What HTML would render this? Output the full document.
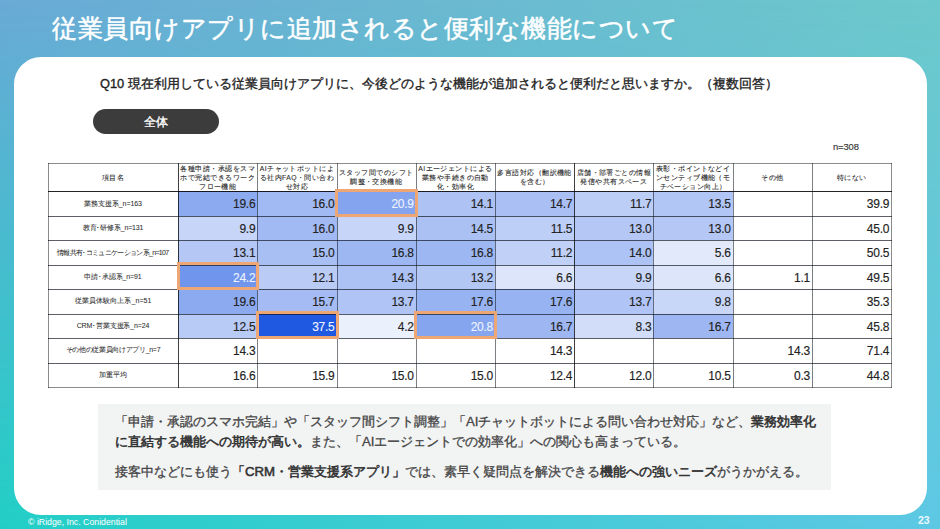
<!DOCTYPE html>
<html lang="ja"><head><meta charset="utf-8">
<style>
*{margin:0;padding:0;box-sizing:border-box}
html,body{width:940px;height:529px;overflow:hidden}
body{position:relative;font-family:"Liberation Sans",sans-serif;background:linear-gradient(to right,#6aaad6,#6cc9cc)}
.bgb{position:absolute;left:0;top:0;width:940px;height:529px;background:linear-gradient(to right,#22cfc6,#5ec8e4);-webkit-mask-image:linear-gradient(to bottom,transparent,#000);mask-image:linear-gradient(to bottom,transparent,#000)}
.title{position:absolute;left:52px;top:12px;color:#fff;font-size:25px;line-height:32px;white-space:nowrap;letter-spacing:0.5px;-webkit-text-stroke:0.5px #fff}
.panel{position:absolute;left:14px;top:57px;width:913px;height:458px;background:#fff;border-radius:27px}
.q{position:absolute;left:100px;top:76px;font-size:12.83px;line-height:16px;color:#1e1e1e;white-space:nowrap;-webkit-text-stroke:0.35px #1e1e1e}
.pill{position:absolute;left:93px;top:109px;width:126px;height:25px;border-radius:13px;background:#3c3c3c;color:#fff;font-size:12px;line-height:27px;text-align:center;-webkit-text-stroke:0.35px #fff}
.n308{position:absolute;left:833px;top:141px;font-size:9.4px;line-height:12px;color:#333;letter-spacing:-0.1px;-webkit-text-stroke:0.15px #333}
.hd,.lb,.nm{position:absolute;overflow:hidden}
.hd{display:flex;align-items:center;justify-content:center;text-align:center;font-size:6.8px;line-height:9px;color:#2a2a2a;-webkit-text-stroke:0.1px #2a2a2a;letter-spacing:0.45px;white-space:nowrap}
.lb{display:flex;align-items:center;justify-content:center;font-size:7px;color:#2a2a2a;white-space:nowrap;-webkit-text-stroke:0.05px #2a2a2a}
.nm{text-align:right;font-size:12px;line-height:26px;padding-right:2px;color:#222;letter-spacing:-0.25px;-webkit-text-stroke:0.15px #222}
.nm.hl{color:#eef4ff;-webkit-text-stroke:0.1px #eef4ff}
.ln{position:absolute}
.hlb{position:absolute;border:3px solid #eea674;box-sizing:content-box}
.box{position:absolute;left:98px;top:404px;width:733px;height:86px;background:#f2f3f3}
.sum{position:absolute;left:115px;font-size:13.2px;line-height:20px;color:#444;white-space:nowrap;-webkit-text-stroke:0.3px #444}
.sum b{color:#333;font-weight:normal;-webkit-text-stroke:0.55px #333}
.foot{position:absolute;left:28px;top:516px;font-size:8.75px;line-height:12px;color:#fff}
.pg{position:absolute;left:918px;top:514px;font-size:10.5px;line-height:12px;color:#eaf8ff;font-weight:bold}
</style></head><body>
<div class="bgb"></div>
<div class="title">従業員向けアプリに追加されると便利な機能について</div>
<div class="panel"></div>
<div class="q">Q10 現在利用している従業員向けアプリに、今後どのような機能が追加されると便利だと思いますか。（複数回答）</div>
<div class="pill">全体</div>
<div class="n308">n=308</div>
<div class="hd" style="left:48.00px;top:163.00px;width:130.10px;height:28.40px"><span>項目名</span></div><div class="hd" style="left:178.10px;top:163.00px;width:79.23px;height:28.40px"><span>各種申請・承認をスマ<br>ホで完結できるワーク<br>フロー機能</span></div><div class="hd" style="left:257.33px;top:163.00px;width:79.23px;height:28.40px"><span>AIチャットボットによ<br>る社内FAQ・問い合わ<br>せ対応</span></div><div class="hd" style="left:336.56px;top:163.00px;width:79.23px;height:28.40px"><span>スタッフ間でのシフト<br>調整・交換機能</span></div><div class="hd" style="left:415.79px;top:163.00px;width:79.23px;height:28.40px"><span>AIエージェントによる<br>業務や手続きの自動<br>化・効率化</span></div><div class="hd" style="left:495.02px;top:163.00px;width:79.23px;height:28.40px"><span>多言語対応（翻訳機能<br>を含む）</span></div><div class="hd" style="left:574.25px;top:163.00px;width:79.23px;height:28.40px"><span>店舗・部署ごとの情報<br>発信や共有スペース</span></div><div class="hd" style="left:653.48px;top:163.00px;width:79.23px;height:28.40px"><span>表彰・ポイントなどイ<br>ンセンティブ機能（モ<br>チベーション向上）</span></div><div class="hd" style="left:732.71px;top:163.00px;width:79.23px;height:28.40px"><span>その他</span></div><div class="hd" style="left:811.94px;top:163.00px;width:79.23px;height:28.40px"><span>特にない</span></div><div class="lb" style="left:48.00px;top:191.40px;width:130.10px;height:24.45px"><span style="letter-spacing:-0.08px;margin-right:0.08px">業務支援系_n=163</span></div><div class="nm" style="left:178.10px;top:191.40px;width:79.23px;height:24.45px;background:#8caaf0;">19.6</div><div class="nm" style="left:257.33px;top:191.40px;width:79.23px;height:24.45px;background:#a2baf3;">16.0</div><div class="nm hl" style="left:336.56px;top:191.40px;width:79.23px;height:24.45px;background:#84a4ef;">20.9</div><div class="nm" style="left:415.79px;top:191.40px;width:79.23px;height:24.45px;background:#aec3f4;">14.1</div><div class="nm" style="left:495.02px;top:191.40px;width:79.23px;height:24.45px;background:#aac0f4;">14.7</div><div class="nm" style="left:574.25px;top:191.40px;width:79.23px;height:24.45px;background:#bccef6;">11.7</div><div class="nm" style="left:653.48px;top:191.40px;width:79.23px;height:24.45px;background:#b1c6f5;">13.5</div><div class="nm" style="left:732.71px;top:191.40px;width:79.23px;height:24.45px;"></div><div class="nm" style="left:811.94px;top:191.40px;width:79.23px;height:24.45px;">39.9</div><div class="lb" style="left:48.00px;top:215.85px;width:130.10px;height:24.45px"><span style="letter-spacing:-0.17px;margin-right:0.17px">教育･研修系_n=131</span></div><div class="nm" style="left:178.10px;top:215.85px;width:79.23px;height:24.45px;background:#c7d6f8;">9.9</div><div class="nm" style="left:257.33px;top:215.85px;width:79.23px;height:24.45px;background:#a2baf3;">16.0</div><div class="nm" style="left:336.56px;top:215.85px;width:79.23px;height:24.45px;background:#c7d6f8;">9.9</div><div class="nm" style="left:415.79px;top:215.85px;width:79.23px;height:24.45px;background:#abc1f4;">14.5</div><div class="nm" style="left:495.02px;top:215.85px;width:79.23px;height:24.45px;background:#becff7;">11.5</div><div class="nm" style="left:574.25px;top:215.85px;width:79.23px;height:24.45px;background:#b5c8f5;">13.0</div><div class="nm" style="left:653.48px;top:215.85px;width:79.23px;height:24.45px;background:#b5c8f5;">13.0</div><div class="nm" style="left:732.71px;top:215.85px;width:79.23px;height:24.45px;"></div><div class="nm" style="left:811.94px;top:215.85px;width:79.23px;height:24.45px;">45.0</div><div class="lb" style="left:48.00px;top:240.30px;width:130.10px;height:24.45px"><span style="letter-spacing:-0.66px;margin-right:0.66px">情報共有･コミュニケーション系_n=107</span></div><div class="nm" style="left:178.10px;top:240.30px;width:79.23px;height:24.45px;background:#b4c7f5;">13.1</div><div class="nm" style="left:257.33px;top:240.30px;width:79.23px;height:24.45px;background:#a8bff4;">15.0</div><div class="nm" style="left:336.56px;top:240.30px;width:79.23px;height:24.45px;background:#9db7f2;">16.8</div><div class="nm" style="left:415.79px;top:240.30px;width:79.23px;height:24.45px;background:#9db7f2;">16.8</div><div class="nm" style="left:495.02px;top:240.30px;width:79.23px;height:24.45px;background:#c0d0f7;">11.2</div><div class="nm" style="left:574.25px;top:240.30px;width:79.23px;height:24.45px;background:#aec3f5;">14.0</div><div class="nm" style="left:653.48px;top:240.30px;width:79.23px;height:24.45px;background:#e2e9fb;">5.6</div><div class="nm" style="left:732.71px;top:240.30px;width:79.23px;height:24.45px;"></div><div class="nm" style="left:811.94px;top:240.30px;width:79.23px;height:24.45px;">50.5</div><div class="lb" style="left:48.00px;top:264.75px;width:130.10px;height:24.45px"><span style="letter-spacing:-0.15px;margin-right:0.15px">申請･承認系_n=91</span></div><div class="nm hl" style="left:178.10px;top:264.75px;width:79.23px;height:24.45px;background:#7095ed;">24.2</div><div class="nm" style="left:257.33px;top:264.75px;width:79.23px;height:24.45px;background:#baccf6;">12.1</div><div class="nm" style="left:336.56px;top:264.75px;width:79.23px;height:24.45px;background:#adc2f4;">14.3</div><div class="nm" style="left:415.79px;top:264.75px;width:79.23px;height:24.45px;background:#b3c7f5;">13.2</div><div class="nm" style="left:495.02px;top:264.75px;width:79.23px;height:24.45px;background:#dce5fa;">6.6</div><div class="nm" style="left:574.25px;top:264.75px;width:79.23px;height:24.45px;background:#c7d6f8;">9.9</div><div class="nm" style="left:653.48px;top:264.75px;width:79.23px;height:24.45px;background:#dce5fa;">6.6</div><div class="nm" style="left:732.71px;top:264.75px;width:79.23px;height:24.45px;">1.1</div><div class="nm" style="left:811.94px;top:264.75px;width:79.23px;height:24.45px;">49.5</div><div class="lb" style="left:48.00px;top:289.20px;width:130.10px;height:24.45px"><span style="letter-spacing:0.1px;margin-right:-0.1px">従業員体験向上系_n=51</span></div><div class="nm" style="left:178.10px;top:289.20px;width:79.23px;height:24.45px;background:#8caaf0;">19.6</div><div class="nm" style="left:257.33px;top:289.20px;width:79.23px;height:24.45px;background:#a4bcf3;">15.7</div><div class="nm" style="left:336.56px;top:289.20px;width:79.23px;height:24.45px;background:#b0c5f5;">13.7</div><div class="nm" style="left:415.79px;top:289.20px;width:79.23px;height:24.45px;background:#98b3f2;">17.6</div><div class="nm" style="left:495.02px;top:289.20px;width:79.23px;height:24.45px;background:#98b3f2;">17.6</div><div class="nm" style="left:574.25px;top:289.20px;width:79.23px;height:24.45px;background:#b0c5f5;">13.7</div><div class="nm" style="left:653.48px;top:289.20px;width:79.23px;height:24.45px;background:#c8d6f8;">9.8</div><div class="nm" style="left:732.71px;top:289.20px;width:79.23px;height:24.45px;"></div><div class="nm" style="left:811.94px;top:289.20px;width:79.23px;height:24.45px;">35.3</div><div class="lb" style="left:48.00px;top:313.65px;width:130.10px;height:24.45px"><span style="letter-spacing:-0.14px;margin-right:0.14px">CRM･営業支援系_n=24</span></div><div class="nm" style="left:178.10px;top:313.65px;width:79.23px;height:24.45px;background:#b8caf6;">12.5</div><div class="nm hl" style="left:257.33px;top:313.65px;width:79.23px;height:24.45px;background:#1f59e2;">37.5</div><div class="nm" style="left:336.56px;top:313.65px;width:79.23px;height:24.45px;background:#eaf0fc;">4.2</div><div class="nm hl" style="left:415.79px;top:313.65px;width:79.23px;height:24.45px;background:#85a5ef;">20.8</div><div class="nm" style="left:495.02px;top:313.65px;width:79.23px;height:24.45px;background:#9eb7f2;">16.7</div><div class="nm" style="left:574.25px;top:313.65px;width:79.23px;height:24.45px;background:#d1ddf9;">8.3</div><div class="nm" style="left:653.48px;top:313.65px;width:79.23px;height:24.45px;background:#9eb7f2;">16.7</div><div class="nm" style="left:732.71px;top:313.65px;width:79.23px;height:24.45px;"></div><div class="nm" style="left:811.94px;top:313.65px;width:79.23px;height:24.45px;">45.8</div><div class="lb" style="left:48.00px;top:338.10px;width:130.10px;height:24.45px"><span style="letter-spacing:-0.32px;margin-right:0.32px">その他の従業員向けアプリ_n=7</span></div><div class="nm" style="left:178.10px;top:338.10px;width:79.23px;height:24.45px;">14.3</div><div class="nm" style="left:257.33px;top:338.10px;width:79.23px;height:24.45px;"></div><div class="nm" style="left:336.56px;top:338.10px;width:79.23px;height:24.45px;"></div><div class="nm" style="left:415.79px;top:338.10px;width:79.23px;height:24.45px;"></div><div class="nm" style="left:495.02px;top:338.10px;width:79.23px;height:24.45px;">14.3</div><div class="nm" style="left:574.25px;top:338.10px;width:79.23px;height:24.45px;"></div><div class="nm" style="left:653.48px;top:338.10px;width:79.23px;height:24.45px;"></div><div class="nm" style="left:732.71px;top:338.10px;width:79.23px;height:24.45px;">14.3</div><div class="nm" style="left:811.94px;top:338.10px;width:79.23px;height:24.45px;">71.4</div><div class="lb" style="left:48.00px;top:362.55px;width:130.10px;height:24.45px"><span style="letter-spacing:0.0px;margin-right:-0.0px">加重平均</span></div><div class="nm" style="left:178.10px;top:362.55px;width:79.23px;height:24.45px;">16.6</div><div class="nm" style="left:257.33px;top:362.55px;width:79.23px;height:24.45px;">15.9</div><div class="nm" style="left:336.56px;top:362.55px;width:79.23px;height:24.45px;">15.0</div><div class="nm" style="left:415.79px;top:362.55px;width:79.23px;height:24.45px;">15.0</div><div class="nm" style="left:495.02px;top:362.55px;width:79.23px;height:24.45px;">12.4</div><div class="nm" style="left:574.25px;top:362.55px;width:79.23px;height:24.45px;">12.0</div><div class="nm" style="left:653.48px;top:362.55px;width:79.23px;height:24.45px;">10.5</div><div class="nm" style="left:732.71px;top:362.55px;width:79.23px;height:24.45px;">0.3</div><div class="nm" style="left:811.94px;top:362.55px;width:79.23px;height:24.45px;">44.8</div>
<div class="ln" style="left:48px;top:163.00px;width:844.17px;height:1px;background:rgba(0,0,0,0.45)"></div><div class="ln" style="left:48px;top:191.40px;width:844.17px;height:1px;background:rgba(0,0,0,0.86)"></div><div class="ln" style="left:48px;top:215.85px;width:844.17px;height:1px;background:rgba(15,20,30,0.68)"></div><div class="ln" style="left:48px;top:240.30px;width:844.17px;height:1px;background:rgba(15,20,30,0.68)"></div><div class="ln" style="left:48px;top:264.75px;width:844.17px;height:1px;background:rgba(15,20,30,0.68)"></div><div class="ln" style="left:48px;top:289.20px;width:844.17px;height:1px;background:rgba(15,20,30,0.68)"></div><div class="ln" style="left:48px;top:313.65px;width:844.17px;height:1px;background:rgba(15,20,30,0.68)"></div><div class="ln" style="left:48px;top:338.10px;width:844.17px;height:1px;background:rgba(15,20,30,0.68)"></div><div class="ln" style="left:48px;top:362.55px;width:844.17px;height:1px;background:rgba(15,20,30,0.68)"></div><div class="ln" style="left:48px;top:387.00px;width:844.17px;height:1px;background:rgba(0,0,0,0.45)"></div><div class="ln" style="left:48.00px;top:163px;width:1px;height:225.00px;background:rgba(0,0,0,0.45)"></div><div class="ln" style="left:178.10px;top:163px;width:1px;height:225.00px;background:rgba(0,0,0,0.75)"></div><div class="ln" style="left:257.33px;top:163px;width:1px;height:225.00px;background:rgba(15,20,30,0.55)"></div><div class="ln" style="left:336.56px;top:163px;width:1px;height:225.00px;background:rgba(15,20,30,0.55)"></div><div class="ln" style="left:415.79px;top:163px;width:1px;height:225.00px;background:rgba(15,20,30,0.55)"></div><div class="ln" style="left:495.02px;top:163px;width:1px;height:225.00px;background:rgba(15,20,30,0.55)"></div><div class="ln" style="left:574.25px;top:163px;width:1px;height:225.00px;background:rgba(0,0,0,0.75)"></div><div class="ln" style="left:653.48px;top:163px;width:1px;height:225.00px;background:rgba(15,20,30,0.55)"></div><div class="ln" style="left:732.71px;top:163px;width:1px;height:225.00px;background:rgba(15,20,30,0.55)"></div><div class="ln" style="left:811.94px;top:163px;width:1px;height:225.00px;background:rgba(15,20,30,0.55)"></div><div class="ln" style="left:891.17px;top:163px;width:1px;height:225.00px;background:rgba(0,0,0,0.45)"></div>
<div class="hlb" style="left:335.06px;top:189.10px;width:76.73px;height:21.75px"></div><div class="hlb" style="left:176.60px;top:262.45px;width:76.73px;height:21.75px"></div><div class="hlb" style="left:255.83px;top:311.35px;width:76.73px;height:21.75px"></div><div class="hlb" style="left:414.29px;top:311.35px;width:76.73px;height:21.75px"></div>
<div class="box"></div>
<div class="sum" style="top:412px">「申請・承認のスマホ完結」や「スタッフ間シフト調整」「AIチャットボットによる問い合わせ対応」など、<b>業務効率化</b></div>
<div class="sum" style="top:432px"><b>に直結する機能への期待が高い。</b>また、「AIエージェントでの効率化」への関心も高まっている。</div>
<div class="sum" style="top:462px">接客中などにも使う<b>「CRM・営業支援系アプリ」</b>では、素早く疑問点を解決できる<b>機能への強いニーズ</b>がうかがえる。</div>
<div class="foot">© iRidge, Inc. Conidential</div>
<div class="pg">23</div>
</body></html>
